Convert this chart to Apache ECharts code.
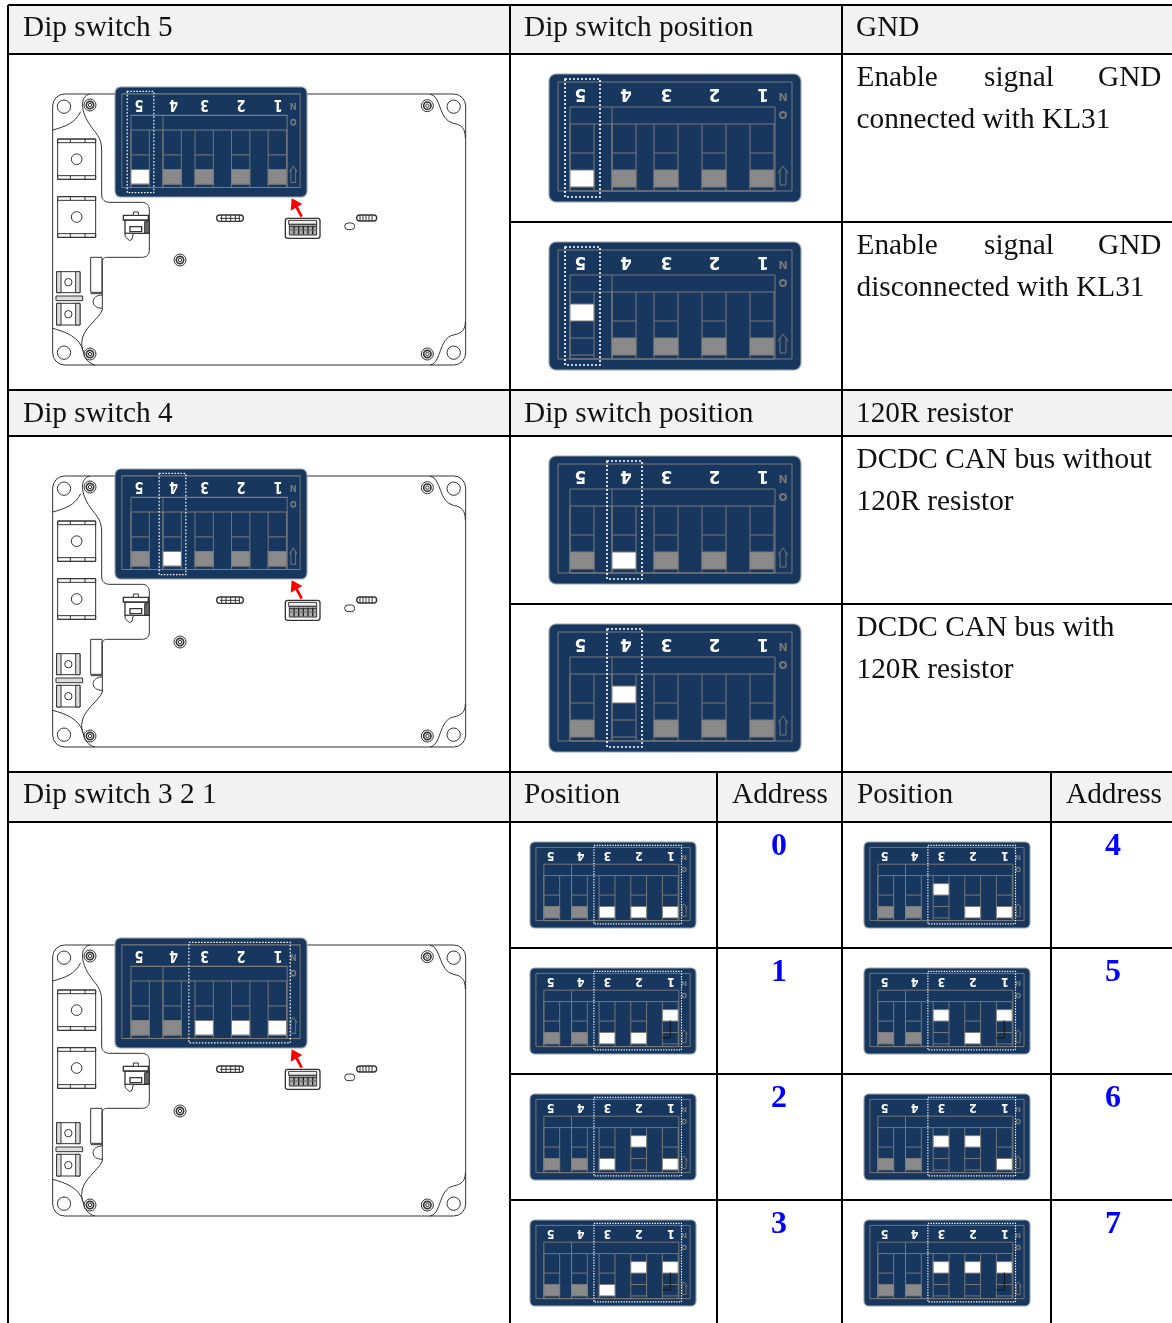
<!DOCTYPE html>
<html><head><meta charset="utf-8">
<style>html,body{margin:0;padding:0;background:#fff}#c{width:1172px;height:1323px}</style>
<script src="https://cdn.jsdelivr.net/npm/echarts@6/dist/echarts.min.js"></script>
</head><body><div id="c"></div>
<script>
// ---- table content ----
const headerLabels = ['Dip switch 5','Dip switch position','GND','Dip switch 4','Dip switch position','120R resistor','Dip switch 3 2 1','Position','Address','Position','Address'];
const bodyLines = [
  ['Enable|signal|GND','connected with KL31'],
  ['Enable|signal|GND','disconnected with KL31'],
  ['DCDC CAN bus without','120R resistor'],
  ['DCDC CAN bus with','120R resistor']
];
const switchNames = ['5','4','3','2','1'];
const addresses = ['0','1','2','3','4','5','6','7'];
// switch states, order 5 4 3 2 1 : 0 = grey/low, 1 = white/low, 2 = white/high
const gnd = [[1,0,0,0,0],[2,0,0,0,0]];
const canRes = [[0,1,0,0,0],[0,2,0,0,0]];
const addressBits = [[0,0,0],[0,0,1],[0,1,0],[0,1,1],[1,0,0],[1,0,1],[1,1,0],[1,1,1]];

// ---- layout ----
const W=1172,H=1323;
const hLines=[[5,8,W],[54,8,W],[222,510,W],[390,8,W],[436,8,W],[604,510,W],[772,8,W],[822,8,W],[948,510,W],[1074,510,W],[1200,510,W]];
const vLines=[[8,5,H],[510,5,H],[842,5,H],[717,772,H],[1051,772,H]];
const headerBands=[[5,54],[390,436],[772,822]];
const NAVY='#17375e',GREY='#7b7b7b',SL='#8a8a8a',INK='#333';
const SERIF='"Liberation Serif","Times New Roman",serif';
const colsX=[21,63,105,153,201], colW=24;
const digitX=[31.5,77,117.5,165.5,214];

function line(x1,y1,x2,y2,c,lw,dash){return {type:'line',shape:{x1,y1,x2,y2},style:{stroke:c,lineWidth:lw,lineDash:dash||null,fill:null}};}
function rect(x,y,w,h,fill,stroke,lw,r){return {type:'rect',shape:{x,y,width:w,height:h,r:r||0},style:{fill:fill||'none',stroke:stroke||'none',lineWidth:lw||1}};}
function circ(cx,cy,r,stroke,lw,fill){return {type:'circle',shape:{cx,cy,r},style:{fill:fill||'none',stroke:stroke,lineWidth:lw}};}
function bez(x1,y1,cpx1,cpy1,cpx2,cpy2,x2,y2,c,lw){return {type:'bezierCurve',shape:{x1,y1,cpx1,cpy1,cpx2,cpy2,x2,y2},style:{stroke:c,lineWidth:lw,fill:null}};}

function panelChildren(states,hl,tick,lw,dotLw){
  const k=[];
  k.push(rect(0,0,252,128,NAVY,'#9aa3ad',lw*1.2,7));
  k.push(rect(9,8,234,109,null,GREY,lw));
  k.push(rect(21,33,205,84,null,GREY,lw));
  k.push(line(21,50,226,50,GREY,lw));
  k.push(line(63,33,63,117,GREY,lw));
  states.forEach((s,i)=>{
    const x=colsX[i];
    k.push(line(x,50,x,117,GREY,lw));
    k.push(line(x+colW,50,x+colW,117,GREY,lw));
    if(s===2){
      k.push(line(x,96,x+colW,96,GREY,lw));
      k.push(line(x,113,x+colW,113,GREY,lw));
      k.push(rect(x,62,colW,17,'#fff',GREY,lw));
    }else{
      k.push(line(x,79,x+colW,79,GREY,lw));
      k.push(rect(x,96,colW,17,s===1?'#fff':SL,GREY,lw));
    }
    k.push({type:'text',rotation:Math.PI,x:digitX[i],y:19.5,style:{text:switchNames[i],x:0,y:0,textAlign:'center',textVerticalAlign:'middle',verticalAlign:'middle',fill:'#fff',font:'bold 18.5px "DejaVu Sans Condensed","DejaVu Sans",sans-serif'}});
  });
  if(tick){
    k.push(line(213,78,213,104,'#111',lw));
    k.push(line(213,104,201,104,'#111',lw));
  }
  k.push({type:'text',x:234,y:24,style:{text:'N',x:0,y:0,textAlign:'center',textVerticalAlign:'middle',verticalAlign:'middle',fill:'#777',font:'bold 11px "DejaVu Sans",sans-serif'}});
  k.push(circ(234,41,3,'#777',2));
  k.push(line(231,96,231,111,'#777',lw));
  k.push(line(237,96,237,111,'#777',lw));
  k.push(line(231,111,237,111,'#777',lw));
  k.push(line(229,99,234,92,'#777',lw));
  k.push(line(239,99,234,92,'#777',lw));
  k.push(rect(hl[0],hl[1],hl[2]-hl[0],hl[3]-hl[1],null,'#fff',dotLw));
  k[k.length-1].style.lineDash=[2,2];
  return k;
}
const HL5=[16,5,51,123],HL4=[58,5,93,123],HL321=[97,5,230,122];

function boardChildren(){
  const c=INK,l=3,k=[];
  // outer outline
  k.push(rect(38,42,1239,813,null,c,l,36));
  // inner contour top-left
  k.push(bez(150,42,118,48,122,95,150,135,c,l));
  k.push(bez(150,135,165,158,185,170,185,210,c,l));
  k.push(line(185,210,185,345,c,l));
  k.push(bez(185,345,185,360,195,367,210,367,c,l));
  k.push(line(210,367,305,367,c,l));
  k.push(bez(305,367,320,367,328,375,328,390,c,l));
  k.push(line(328,390,328,510,c,l));
  k.push(bez(328,510,328,525,320,532,305,532,c,l));
  k.push(line(305,532,200,532,c,l));
  k.push(bez(200,532,190,532,186,540,186,550,c,l));
  k.push(line(187,550,187,690,c,l));
  k.push(rect(152,532,34,105,null,c,l));
  k.push(line(152,641,186,641,c,l));
  // corner curves
  k.push(bez(38,150,75,140,105,130,122,95,c,l));
  k.push(bez(1170,42,1205,48,1195,120,1240,130,c,l));
  k.push(bez(1240,130,1265,134,1276,145,1276,175,c,l));
  k.push(bez(38,745,75,755,120,770,130,815,c,l));
  k.push(bez(130,815,133,835,145,850,165,855,c,l));
  k.push(bez(187,690,175,720,125,745,125,790,c,l));
  k.push(bez(125,790,125,800,127,808,130,815,c,l));
  k.push(bez(1170,855,1205,850,1195,775,1240,765,c,l));
  k.push(bez(1240,765,1265,760,1276,750,1276,725,c,l));
  k.push(bez(187,645,150,645,150,685,187,685,c,l));
  // mounting holes and screws
  [[72,80],[1241,80],[72,818],[1241,818]].forEach(p=>k.push(circ(p[0],p[1],20,c,l)));
  [[150,75],[1162,77],[150,822],[1162,822],[420,540]].forEach(p=>{
    k.push(circ(p[0],p[1],18,c,l));k.push(circ(p[0],p[1],11,c,l+2));k.push(circ(p[0],p[1],5,c,l));
  });
  // large terminals
  [[53,177,114,121],[53,350,114,122]].forEach(t=>{
    k.push(rect(t[0],t[1],t[2],t[3],'#fff',c,l));
    k.push(rect(t[0],t[1],t[2],11,null,c,l));
    k.push(rect(t[0],t[1]+t[3]-11,t[2],11,null,c,l));
    k.push(line(t[0]+38,t[1],t[0]+38,t[1]+11,c,l));
    k.push(line(t[0]+82,t[1],t[0]+82,t[1]+11,c,l));
    k.push(line(t[0]+38,t[1]+t[3]-11,t[0]+38,t[1]+t[3],c,l));
    k.push(line(t[0]+82,t[1]+t[3]-11,t[0]+82,t[1]+t[3],c,l));
    k.push(circ(t[0]+57,t[1]+t[3]/2,16,c,l));
  });
  // small terminals
  [[50,575,70,63],[50,670,70,65]].forEach(t=>{
    k.push(rect(t[0],t[1],t[2],t[3],'#fff',c,l));
    k.push(rect(t[0],t[1],13,t[3],'#ddd',c,l));
    k.push(rect(t[0]+t[2]-13,t[1],13,t[3],'#ddd',c,l));
    k.push(circ(t[0]+35,t[1]+t[3]/2,11,c,l));
  });
  k.push(rect(48,648,80,14,'#ddd',c,l));
  // connector
  k.push(rect(255,420,73,40,'#fff',c,l+1));
  k.push(rect(250,406,75,14,'#fff',c,l+1));
  k.push(rect(280,396,15,10,'#fff',c,l));
  k.push(rect(270,440,35,15,'#fff',c,l+1));
  k.push(rect(314,425,14,34,'#666',c,l));
  k.push({type:'polygon',shape:{points:[[255,460],[280,460],[276,478],[268,482],[256,470]]},style:{fill:'#fff',stroke:c,lineWidth:l}});
  // slot connectors
  k.push(rect(530,405,80,19,'#fff',c,l+1,9));
  [545,558,572,586,598].forEach(x=>k.push(line(x,405,x,424,c,l)));
  k.push(line(540,415,600,415,c,l));
  k.push(rect(950,405,60,18,'#fff',c,l+1,9));
  [960,969,978,987,996].forEach(x=>k.push(line(x,405,x,423,c,l)));
  k.push(rect(914,429,30,20,'#fff',c,l,10));
  // dip part
  k.push(rect(736,415,104,60,'#fff',c,l+1,7));
  k.push(rect(746,421,84,12,'#eee',c,l));
  k.push(rect(748,433,82,32,'#aaa',c,l));
  [762,776,790,804,818].forEach(x=>k.push(line(x,437,x,463,'#222',l+1)));
  k.push(line(748,440,830,440,c,l));
  k.push(line(748,450,830,450,'#666',l));
  // red arrow
  k.push(line(785,410,768,378,'#ff0000',8));
  k.push({type:'polygon',shape:{points:[[755,355],[787,372],[752,392]]},style:{fill:'#ff0000',stroke:'none'}});
  return k;
}

// ---- data rows for the series ----
const lowPanels=[[549,74,gnd[0],HL5],[549,242,gnd[1],HL5],[549,456,canRes[0],HL4],[549,624,canRes[1],HL4]];
const boards=[0,382,851];
const boardPanels=[[115,87,[1,0,0,0,0],HL5],[115,469,[0,1,0,0,0],HL4],[115,938,[0,0,1,1,1],HL321]];
const smallX=[530,864],smallY=[842,968,1094,1220];
const smallPanels=addressBits.map((b,i)=>[smallX[i<4?0:1],smallY[i%4],[0,0].concat(b.map(v=>v?2:1)),HL321,b[2]===1]);

function P(api,x,y){return api.coord([x,y]);}
function textEl(api,str,x,y,opt){opt=opt||{};const p=P(api,x,y);
  return {type:'text',style:{text:str,x:p[0],y:p[1],textAlign:opt.align||'left',textVerticalAlign:'middle',verticalAlign:'middle',fill:opt.fill||'#111',font:opt.font||('29.3px '+SERIF)}};}

const headerPos=[[23,28],[524,28],[856,28],[23,414],[524,414],[856,414],[23,795],[524,795],[732,795],[857,795],[1066,795]];
const bodyPos=[[78,120],[246,288],[460,502],[628,670]];
const justX=[856.5,984,1098];
const addrX=[779,1113],addrY=[847,973,1099,1225];

const option={
  animation:false,
  backgroundColor:'#fff',
  grid:{left:0,right:0,top:0,bottom:0,containLabel:false},
  xAxis:{type:'value',min:0,max:W,show:false},
  yAxis:{type:'value',min:0,max:H,inverse:true,show:false},
  series:[
    {type:'custom',name:'header bands',clip:false,silent:true,data:headerBands.map(b=>[0,b[0],b[1]]),
     renderItem:(ps,api)=>{const a=P(api,8,api.value(1)),b=P(api,W,api.value(2));
       return rect(a[0],a[1],b[0]-a[0],b[1]-a[1],'#f2f2f2');}},
    {type:'custom',name:'boards',clip:false,silent:true,data:boards.map(d=>[40,80+d]),
     renderItem:(ps,api)=>{const p=P(api,api.value(0),api.value(1));
       return {type:'group',x:p[0],y:p[1],scaleX:1/3,scaleY:1/3,children:boardChildren()};}},
    {type:'custom',name:'board panels',clip:false,silent:true,data:boardPanels.map((r,i)=>[r[0],r[1],i]),
     renderItem:(ps,api)=>{const r=boardPanels[api.value(2)],p=P(api,r[0],r[1]);
       return {type:'group',x:p[0],y:p[1],scaleX:192/252,scaleY:110/128,children:panelChildren(r[2],r[3],false,1.2,1.5)};}},
    {type:'custom',name:'position panels',clip:false,silent:true,data:lowPanels.map((r,i)=>[r[0],r[1],i]),
     renderItem:(ps,api)=>{const r=lowPanels[api.value(2)],p=P(api,r[0],r[1]);
       return {type:'group',x:p[0],y:p[1],children:panelChildren(r[2],r[3],false,1,1.6)};}},
    {type:'custom',name:'address panels',clip:false,silent:true,data:smallPanels.map((r,i)=>[r[0],r[1],i]),
     renderItem:(ps,api)=>{const r=smallPanels[api.value(2)],p=P(api,r[0],r[1]);
       return {type:'group',x:p[0],y:p[1],scaleX:166/252,scaleY:86/128,children:panelChildren(r[2],r[3],r[4],1.4,1.8)};}},
    {type:'custom',name:'rules',clip:false,silent:true,
     data:hLines.map(l=>[l[1],l[0],l[2],l[0]]).concat(vLines.map(l=>[l[0],l[1],l[0],l[2]])),
     renderItem:(ps,api)=>{const a=P(api,api.value(0),api.value(1)),b=P(api,api.value(2),api.value(3));
       return line(a[0],a[1],b[0],b[1],'#000',2);}},
    {type:'custom',name:'headers',clip:false,silent:true,data:headerLabels.map((t,i)=>[headerPos[i][0],headerPos[i][1],i]),
     renderItem:(ps,api)=>textEl(api,headerLabels[api.value(2)],api.value(0),api.value(1))},
    {type:'custom',name:'body',clip:false,silent:true,data:bodyLines.map((t,i)=>[857,0,i]),
     renderItem:(ps,api)=>{const i=api.value(2),ls=bodyLines[i],ch=[];
       ls.forEach((s,j)=>{const y=bodyPos[i][j];
         if(s.includes('|'))s.split('|').forEach((w,q)=>ch.push(textEl(api,w,justX[q],y)));
         else ch.push(textEl(api,s,856.5,y));});
       return {type:'group',children:ch};}},
    {type:'custom',name:'addresses',clip:false,silent:true,data:addresses.map((t,i)=>[addrX[i<4?0:1],addrY[i%4],i]),
     renderItem:(ps,api)=>textEl(api,addresses[api.value(2)],api.value(0),api.value(1),{align:'center',fill:'#0000ff',font:'bold 32px '+SERIF})}
  ]
};
const chart=echarts.init(document.getElementById('c'),null,{renderer:'canvas'});
chart.setOption(option);
</script></body></html>
